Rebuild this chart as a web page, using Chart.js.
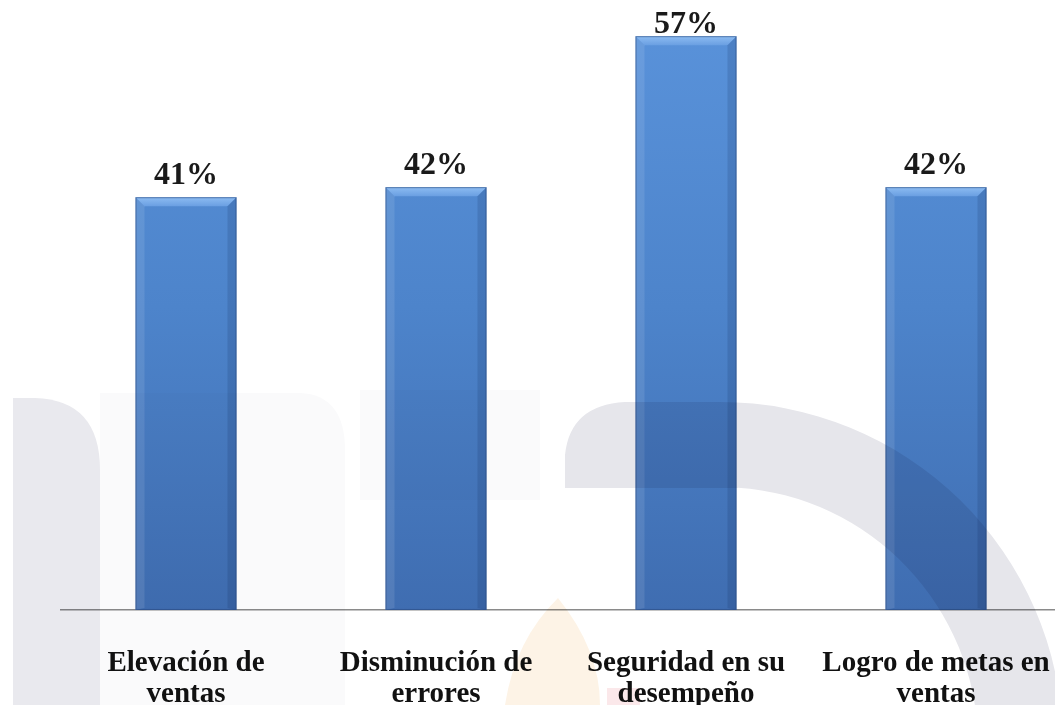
<!DOCTYPE html>
<html>
<head>
<meta charset="utf-8">
<script src="https://cdn.jsdelivr.net/npm/chart.js@4/dist/chart.umd.min.js"></script>
<style>
    html, body { margin: 0; padding: 0; background: #fff; overflow: hidden; }
    #wrap { position: absolute; left: 0; top: 0; width: 1055px; height: 705px; overflow: hidden; }
    canvas { display: block; }
</style>
</head>
<body>
<div id="wrap">
    <canvas id="beneficios" width="1061" height="748"></canvas>
</div>
<script>
// Beneficios percibidos (%)
const categorias = [
    ['Elevación de', 'ventas'],
    ['Disminución de', 'errores'],
    ['Seguridad en su', 'desempeño'],
    ['Logro de metas en', 'ventas']
];
const porcentajes = [41, 42, 57, 42];

const serif = "'Liberation Serif', 'Times New Roman', serif";

// faint logo shapes behind the plot (multiplied so the bars darken under them)
const marcaAgua = {
    id: 'marcaAgua',
    afterDatasetsDraw(chart) {
        const c = chart.ctx;
        c.save();
        c.globalCompositeOperation = 'multiply';

        c.fillStyle = '#fafafb';
        c.beginPath();
        c.moveTo(100, 705); c.lineTo(100, 393); c.lineTo(300, 393);
        c.quadraticCurveTo(345, 395, 345, 450); c.lineTo(345, 705);
        c.fill();
        c.fillRect(360, 390, 180, 110);

        c.fillStyle = '#e9e9ee';
        c.beginPath();
        c.moveTo(13, 705); c.lineTo(13, 398); c.lineTo(35, 398);
        c.quadraticCurveTo(100, 400, 100, 470); c.lineTo(100, 705);
        c.fill();

        // curved band
        c.fillStyle = '#e6e6eb';
        c.beginPath();
        c.moveTo(565, 488);
        c.lineTo(565, 455);
        c.quadraticCurveTo(570, 405, 625, 402);
        c.lineTo(720, 402);
        c.arc(720, 745, 343, -Math.PI / 2, -0.02, false);
        c.lineTo(978, 745);
        c.arc(720, 745, 258, -0.02, -Math.PI / 2 + 0.07, true);
        c.lineTo(738, 488);
        c.closePath();
        c.fill();

        // flame
        c.fillStyle = '#fdf3e6';
        c.beginPath();
        c.moveTo(558, 598);
        c.quadraticCurveTo(600, 650, 600, 705);
        c.lineTo(505, 705);
        c.quadraticCurveTo(515, 640, 558, 598);
        c.fill();
        c.fillStyle = '#fbe8ea';
        c.fillRect(607, 688, 33, 17);

        c.restore();
    }
};

// bevelled tops, side shading and value labels on each bar
const biselEtiquetas = {
    id: 'biselEtiquetas',
    afterDatasetsDraw(chart) {
        const c = chart.ctx;
        const meta = chart.getDatasetMeta(0);
        meta.data.forEach((bar) => {
            const l = bar.x - bar.width / 2, r = bar.x + bar.width / 2;
            const t = bar.y, b = bar.base, d = 9;
            c.save();
            const top = c.createLinearGradient(0, t, 0, t + d);
            top.addColorStop(0, '#8dbcf2');
            top.addColorStop(1, '#6a9fe2');
            c.fillStyle = top;
            c.beginPath();
            c.moveTo(l, t); c.lineTo(r, t); c.lineTo(r - d, t + d); c.lineTo(l + d, t + d);
            c.closePath(); c.fill();

            c.fillStyle = 'rgba(255,255,255,0.10)';
            c.beginPath();
            c.moveTo(l, t); c.lineTo(l + d, t + d); c.lineTo(l + d, b - 2); c.lineTo(l, b);
            c.closePath(); c.fill();

            c.fillStyle = 'rgba(10,30,70,0.14)';
            c.beginPath();
            c.moveTo(r, t); c.lineTo(r - d, t + d); c.lineTo(r - d, b - 2); c.lineTo(r, b);
            c.closePath(); c.fill();

            c.strokeStyle = 'rgba(40,70,120,0.55)';
            c.lineWidth = 1;
            c.strokeRect(l + 0.5, t + 0.5, r - l - 1, b - t - 1);
            c.restore();
        });
    },
    afterDraw(chart) {
        const c = chart.ctx;
        const meta = chart.getDatasetMeta(0);
        c.save();
        c.font = 'bold 32px ' + serif;
        c.fillStyle = '#1a1a1a';
        c.textAlign = 'center';
        c.textBaseline = 'alphabetic';
        meta.data.forEach((bar, i) => {
            // keep the label inside the plot when the bar reaches the top
            const y = Math.max(bar.y - 13, chart.chartArea.top + 29);
            c.fillText(porcentajes[i] + '%', bar.x, y);
        });
        c.restore();
    }
};

const ctx = document.getElementById('beneficios').getContext('2d');

new Chart(ctx, {
    type: 'bar',
    data: {
        labels: categorias,
        datasets: [{
            data: porcentajes,
            backgroundColor: (context) => {
                const area = context.chart.chartArea;
                if (!area) return '#4a80c8';
                const g = context.chart.ctx.createLinearGradient(0, area.top, 0, area.bottom);
                g.addColorStop(0, '#5a93db');
                g.addColorStop(0.5, '#4d84cb');
                g.addColorStop(1, '#3f6db1');
                return g;
            },
            borderWidth: 0,
            categoryPercentage: 1,
            barPercentage: 0.404
        }]
    },
    options: {
        responsive: false,
        animation: false,
        devicePixelRatio: 1,
        layout: { padding: { left: 61, right: 0, top: 4, bottom: 0 } },
        plugins: {
            legend: { display: false },
            tooltip: { enabled: false }
        },
        scales: {
            x: {
                grid: { display: false, drawTicks: false },
                border: { display: true, color: '#8a8a8a', width: 1.5 },
                ticks: {
                    color: '#111',
                    padding: 38,
                    autoSkip: false,
                    maxRotation: 0,
                    font: { family: serif, size: 29, weight: 'bold', lineHeight: 1.07 }
                },
                // the last label may run past the edge, as in the printed figure
                afterFit: (scale) => {
                    scale.paddingLeft = 0;
                    scale.paddingRight = 0;
                }
            },
            y: {
                display: false,
                min: 0,
                max: 60.2
            }
        }
    },
    plugins: [biselEtiquetas, marcaAgua]
});
</script>
</body>
</html>
